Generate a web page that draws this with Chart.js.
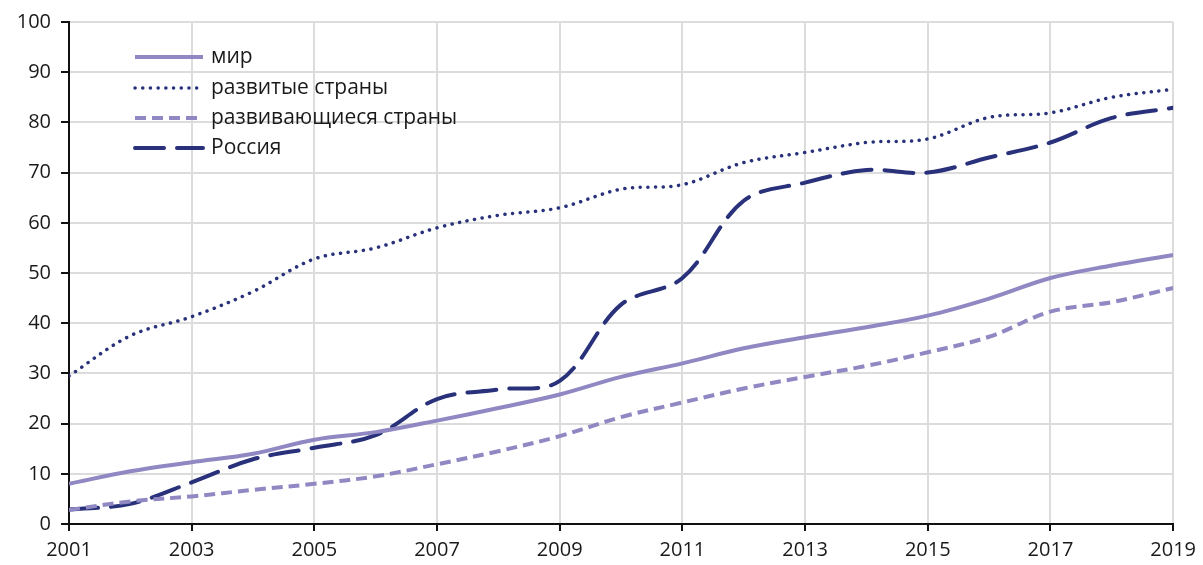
<!DOCTYPE html>
<html>
<head>
<meta charset="utf-8">
<script src="https://cdn.jsdelivr.net/npm/chart.js@4/dist/chart.umd.min.js"></script>
<style>
html,body{margin:0;padding:0;background:#fff;}
#wrap{width:1203px;height:565px;position:relative;}
</style>
</head>
<body>
<div id="wrap"><canvas id="c" width="1203" height="565"></canvas></div>
<script>
const years = [2001,2002,2003,2004,2005,2006,2007,2008,2009,2010,2011,2012,2013,2014,2015,2016,2017,2018,2019];
const world = [8,10.5,12.3,14,16.8,18.3,20.6,23.1,25.8,29.3,32,35,37.2,39.2,41.5,44.9,49,51.5,53.6];
const developed = [29.5,37.5,41.3,46.3,52.8,55,59,61.5,63,66.7,67.6,72,74,76,76.7,81,81.9,85,86.6];
const developing = [2.8,4.5,5.5,6.8,8,9.5,11.9,14.5,17.5,21.3,24.2,27,29.3,31.5,34.2,37.3,42.3,44.2,47];
const russia = [2.9,4,8.3,12.9,15.2,17.7,24.9,26.8,28.5,43.7,49,64.4,68,70.5,70,73,76,80.9,82.9];
const seriesLabels = ['мир','развитые страны','развивающиеся страны','Россия'];
const yTicks = [0,10,20,30,40,50,60,70,80,90,100];
const xTicks = [2001,2003,2005,2007,2009,2011,2013,2015,2017,2019];

const NAVY = '#28317a';
const LAV = '#8f88c2';
const FONT = '"Open Sans", "DejaVu Sans", sans-serif';

function pts(vals){ return years.map((y,i)=>({x:y,y:vals[i]})); }

const legendPlugin = {
  id:'customLegend',
  afterDatasetsDraw(chart){
    const ctx = chart.ctx;
    const x0 = 135, x1 = 203, tx = 211;
    const rows = [57, 88, 118, 148];
    chart.data.datasets.forEach((ds,i)=>{
      const y = rows[i];
      ctx.save();
      ctx.strokeStyle = ds.borderColor;
      ctx.lineWidth = ds.borderWidth;
      ctx.lineCap = ds.borderCapStyle || 'butt';
      ctx.setLineDash(ds.borderDash || []);
      ctx.beginPath();
      ctx.moveTo(x0,y); ctx.lineTo(x1,y);
      ctx.stroke();
      ctx.setLineDash([]);
      ctx.fillStyle = '#1a1a1a';
      ctx.font = '21px ' + FONT;
      ctx.textBaseline = 'middle';
      ctx.fillText(ds.label, tx, y);
      ctx.restore();
    });
  }
};

new Chart(document.getElementById('c'), {
  type:'line',
  data:{
    datasets:[
      {label:seriesLabels[0], data:pts(world), borderColor:LAV, borderWidth:4, tension:0.35, pointRadius:0, borderCapStyle:'butt'},
      {label:seriesLabels[1], data:pts(developed), borderColor:NAVY, borderWidth:3.5, borderDash:[0.1,7.6], borderCapStyle:'round', tension:0.35, pointRadius:0},
      {label:seriesLabels[2], data:pts(developing), borderColor:LAV, borderWidth:4, borderDash:[11,6], tension:0.35, pointRadius:0, borderCapStyle:'butt'},
      {label:seriesLabels[3], data:pts(russia), borderColor:NAVY, borderWidth:4, borderDash:[29,13], borderCapStyle:'round', tension:0.35, pointRadius:0}
    ]
  },
  options:{
    responsive:false,
    animation:false,
    devicePixelRatio:1,
    layout:{padding:{top:22,right:28,left:0,bottom:0}},
    plugins:{legend:{display:false}, tooltip:{enabled:false}},
    scales:{
      x:{
        type:'linear', min:2001, max:2019,
        afterBuildTicks(axis){ axis.ticks = xTicks.map(v=>({value:v})); },
        afterFit(axis){ axis.height = 41; },
        ticks:{callback:(v)=>String(v), color:'#1a1a1a', font:{size:20, family:FONT}, padding:7, maxRotation:0, autoSkip:false},
        grid:{color:'#dcdcdc', lineWidth:2, tickLength:7, tickColor:'#111', drawTicks:true},
        border:{color:'#111', width:2}
      },
      y:{
        min:0, max:100,
        afterBuildTicks(axis){ axis.ticks = yTicks.map(v=>({value:v})); },
        afterFit(axis){ axis.width = 69; },
        ticks:{color:'#1a1a1a', font:{size:20, family:FONT}, padding:10},
        grid:{color:'#dcdcdc', lineWidth:2, tickLength:8, tickColor:'#111'},
        border:{color:'#111', width:2}
      }
    }
  },
  plugins:[legendPlugin]
});
</script>
</body>
</html>
